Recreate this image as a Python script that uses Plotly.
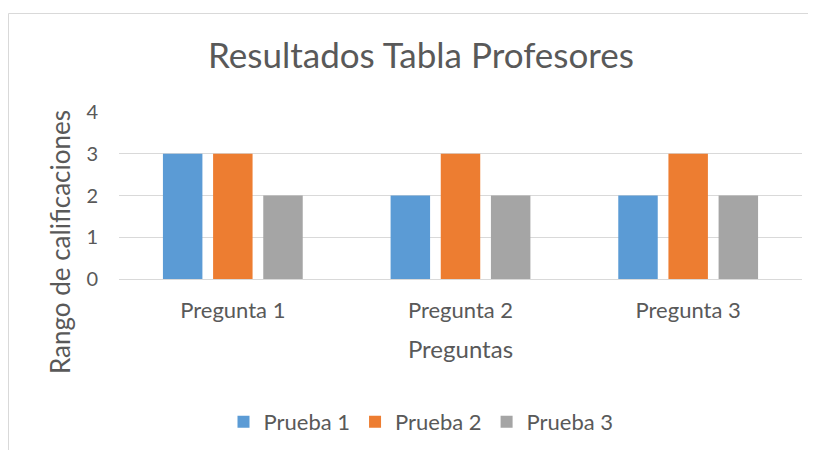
import plotly.graph_objects as go

categories = ["Pregunta 1", "Pregunta 2", "Pregunta 3"]
series_names = ["Prueba 1", "Prueba 2", "Prueba 3"]
prueba1 = [3, 2, 2]
prueba2 = [3, 3, 3]
prueba3 = [2, 2, 2]
y_ticks = [0, 1, 2, 3, 4]

colors = ["#5B9BD5", "#ED7D31", "#A5A5A5"]
values = [prueba1, prueba2, prueba3]

FONT = "Lato"
TXT = "#595959"
GRID = "#D9D9D9"

fig = go.Figure()
for name, vals, c in zip(series_names, values, colors):
    fig.add_trace(go.Bar(
        x=categories, y=vals, name=name,
        marker=dict(color=c, line=dict(width=0)),
    ))

# page body has an 8px margin; work in figure coordinates
O = 8
W, H = 816, 450
L, T = 119 - O, 112 - O
R = W - (802 - O)
B = H - (279 - O)
pw, ph = W - L - R, H - T - B

def px(x):  # screen x -> paper
    return (x - O - L) / pw

def py(y):  # screen y -> paper
    return (H - B - (y - O)) / ph

fig.update_layout(
    width=W, height=H,
    margin=dict(l=L, r=R, t=T, b=B),
    paper_bgcolor="white", plot_bgcolor="white",
    barmode="group", bargap=0.339, bargroupgap=0.213,
    font=dict(family=FONT, color=TXT),
    title=dict(text="Resultados Tabla Profesores", x=(421 - O) / W, xref="container",
               xanchor="center", y=1 - (56 - O) / H, yref="container", yanchor="middle",
               font=dict(size=35, family=FONT, color=TXT)),
    showlegend=True,
    legend=dict(orientation="h", x=px(421), xanchor="center", y=py(422), yanchor="middle",
                font=dict(size=22, color=TXT), itemsizing="constant",
                traceorder="normal"),
    xaxis=dict(showgrid=False, showline=True, linecolor=GRID, linewidth=1,
               tickfont=dict(size=22, color=TXT), ticks="", ticklabelstandoff=12,
               title=dict(text="Preguntas", font=dict(size=24, color=TXT), standoff=18)),
    yaxis=dict(range=[0, 4], tickvals=y_ticks, showgrid=True, gridcolor=GRID,
               gridwidth=1, zeroline=False, showline=False,
               tickfont=dict(size=20, color=TXT), ticks="", ticklabelstandoff=20),
    annotations=[dict(text="Rango de calificaciones", textangle=-90, showarrow=False,
                      xref="paper", yref="paper", x=px(60), y=py(242),
                      xanchor="center", yanchor="middle",
                      font=dict(size=26, color=TXT, family=FONT))],
    shapes=[dict(type="rect", xref="paper", yref="paper",
                 x0=px(8.5), x1=px(850), y0=py(13.5), y1=py(480),
                 line=dict(color=GRID, width=1), fillcolor="rgba(0,0,0,0)", layer="below")],
)

fig.write_html("out.html")
